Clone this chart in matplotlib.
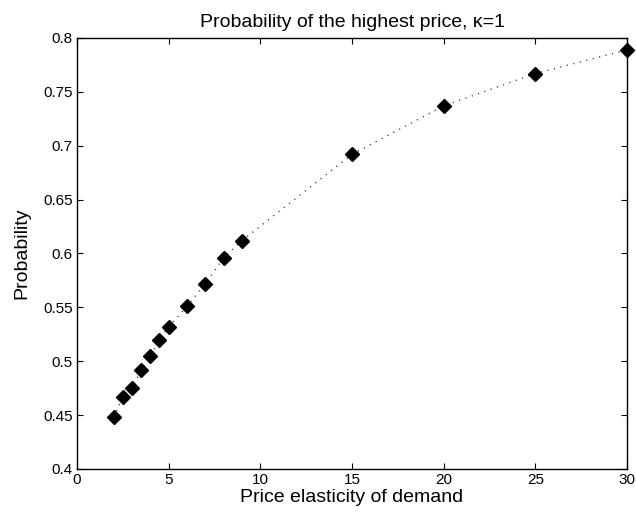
import matplotlib
matplotlib.use("Agg")
import matplotlib.pyplot as plt

plt.rcParams['font.family'] = ['Liberation Sans', 'DejaVu Sans']

elasticity = [2, 2.5, 3, 3.5, 4, 4.5, 5, 6, 7, 8, 9, 15, 20, 25, 30]
probability = [0.448, 0.467, 0.475, 0.492, 0.505, 0.520, 0.532, 0.551, 0.572,
               0.596, 0.612, 0.692, 0.737, 0.767, 0.789]
x_ticks = [0, 5, 10, 15, 20, 25, 30]
y_ticks = [0.4, 0.45, 0.5, 0.55, 0.6, 0.65, 0.7, 0.75, 0.8]
y_tick_labels = ['0.4', '0.45', '0.5', '0.55', '0.6', '0.65', '0.7', '0.75', '0.8']

fig = plt.figure(figsize=(6.36, 5.24), dpi=100)
ax = fig.add_axes([0.121, 0.105, 0.865, 0.8225])
ax.plot(elasticity, probability, linestyle=(0, (0.8, 4)), color='#333333', linewidth=1,
        clip_on=False, zorder=2)
ax.plot(elasticity, probability, linestyle='none',
        marker='D', markersize=7, markerfacecolor='black', markeredgecolor='black',
        clip_on=False, zorder=3)
ax.set_xlim(0, 30)
ax.set_ylim(0.4, 0.8)
ax.set_xticks(x_ticks)
ax.set_yticks(y_ticks)
ax.set_yticklabels(y_tick_labels)
ax.tick_params(direction='in', top=True, right=True, labelsize=11, length=4, pad=3)
ax.set_xlabel('Price elasticity of demand', fontsize=14, labelpad=1)
ax.set_ylabel('Probability', fontsize=14, labelpad=9)
ax.set_title('Probability of the highest price, \u03ba=1', fontsize=14, pad=8)
for s in ax.spines.values():
    s.set_linewidth(1)
fig.savefig('out.png', dpi=100)
